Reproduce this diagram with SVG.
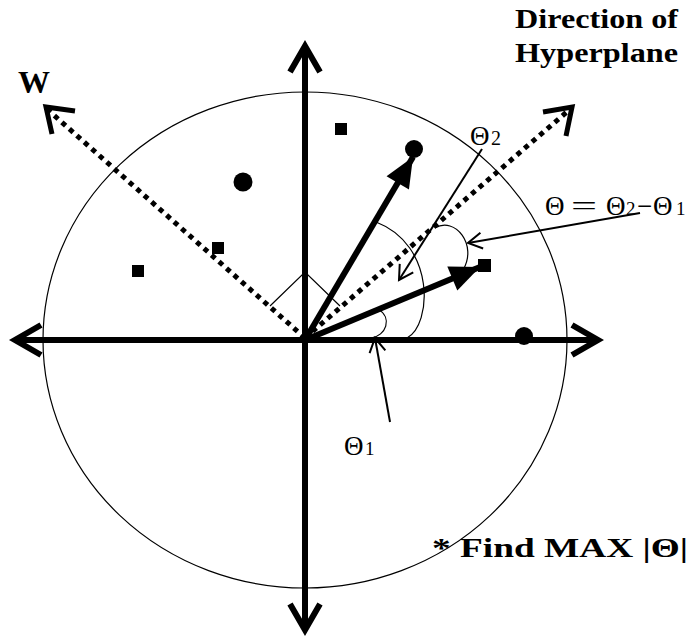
<svg xmlns="http://www.w3.org/2000/svg" width="696" height="637" viewBox="0 0 696 637">
<style>
.axis{stroke:#000;stroke-width:6;fill:none}
.dot{stroke:#000;stroke-width:5;stroke-dasharray:5 5;fill:none}
.vec{stroke:#000;stroke-width:6;fill:none}
.thin{stroke:#000;stroke-width:1.2;fill:none}
.ptr{stroke:#000;stroke-width:2;fill:none}
.lbl{font-family:"Liberation Serif","Times New Roman",serif;fill:#000}
.bold{font-family:"Liberation Serif","Times New Roman",serif;font-weight:bold;fill:#000}
</style>
<defs>
<marker id="chev" viewBox="-40 -25 50 50" markerWidth="50" markerHeight="50" refX="0" refY="0" orient="auto" markerUnits="userSpaceOnUse">
<path d="M -26,-15 L 0,0 L -26,15" stroke="#000" stroke-width="6" fill="none" stroke-linejoin="miter"/>
</marker>
<marker id="tri" viewBox="-40 -20 45 40" markerWidth="45" markerHeight="40" refX="0" refY="0" orient="auto" markerUnits="userSpaceOnUse">
<path d="M -30,-13 L 0,0 L -30,13 Z" fill="#000"/>
</marker>
<marker id="thinhead" viewBox="-20 -12 25 24" markerWidth="25" markerHeight="24" refX="0" refY="0" orient="auto" markerUnits="userSpaceOnUse">
<path d="M -14,-8 L 0,0 L -14,8" stroke="#000" stroke-width="2" fill="none"/>
</marker>
</defs>

<g id="circle">
<ellipse cx="305" cy="340" rx="262" ry="248" class="thin"/>
</g>

<g id="connectors">
<line class="axis" x1="305" y1="630" x2="305" y2="46" marker-end="url(#chev)"/>
<line class="axis" x1="305" y1="46" x2="305" y2="630" marker-end="url(#chev)"/>
<line class="axis" x1="598" y1="340" x2="15" y2="340" marker-end="url(#chev)"/>
<line class="axis" x1="15" y1="340" x2="598" y2="340" marker-end="url(#chev)"/>
<line class="dot" x1="305" y1="338" x2="48" y2="110"/>
<path d="M 75,111 L 46,107 L 52,134" stroke="#000" stroke-width="5" fill="none"/>
<line class="dot" x1="305" y1="338" x2="569" y2="110"/>
<path d="M 543,112 L 572,107 L 566,136" stroke="#000" stroke-width="5" fill="none"/>
<polyline class="thin" points="270,306 305,272 340,306"/>
<line class="vec" x1="305" y1="340" x2="413" y2="157" marker-end="url(#tri)"/>
<line class="vec" x1="305" y1="340" x2="480" y2="267" marker-end="url(#tri)"/>
<path class="thin" d="M 371,338 C 386,336 393,318 378,309"/>
<path class="thin" d="M 407,338 C 432,325 436,245 376,222"/>
<path class="thin" d="M 435,228 C 455,216 478,245 463,270"/>
<line class="ptr" x1="482" y1="149" x2="399" y2="280" marker-end="url(#thinhead)"/>
<line class="ptr" x1="640" y1="213" x2="468" y2="243" marker-end="url(#thinhead)"/>
<line class="ptr" x1="390" y1="422" x2="375" y2="338" marker-end="url(#thinhead)"/>
</g>

<g id="points">
<circle cx="414" cy="149" r="9"/>
<circle cx="243" cy="182" r="9.5"/>
<circle cx="524" cy="336" r="9"/>
<rect x="335" y="123" width="12" height="12"/>
<rect x="212" y="242" width="12" height="12"/>
<rect x="132" y="265" width="12" height="12"/>
<rect x="478" y="259" width="13" height="13"/>
</g>

<g id="labels">
<text class="bold" x="18" y="93" font-size="32">W</text>
<text class="bold" x="515" y="28" font-size="28" textLength="163" lengthAdjust="spacingAndGlyphs">Direction of</text>
<text class="bold" x="515" y="62" font-size="28" textLength="163" lengthAdjust="spacingAndGlyphs">Hyperplane</text>
<text class="lbl" x="470" y="145" font-size="27">Θ</text>
<text class="lbl" x="491" y="145" font-size="20">2</text>
<text class="lbl" x="545" y="215" font-size="27">Θ</text>
<text class="lbl" x="571" y="215" font-size="27" textLength="26" lengthAdjust="spacingAndGlyphs">=</text>
<text class="lbl" x="606" y="215" font-size="27">Θ</text>
<text class="lbl" x="626" y="215" font-size="19">2</text>
<text class="lbl" x="637" y="215" font-size="27">−</text>
<text class="lbl" x="653" y="215" font-size="27">Θ</text>
<text class="lbl" x="676" y="215" font-size="19">1</text>
<text class="lbl" x="344" y="455" font-size="27">Θ</text>
<text class="lbl" x="365" y="455" font-size="19">1</text>
<text class="bold" x="432" y="557" font-size="27" textLength="256" lengthAdjust="spacingAndGlyphs">* Find MAX |Θ|</text>
</g>
</svg>
